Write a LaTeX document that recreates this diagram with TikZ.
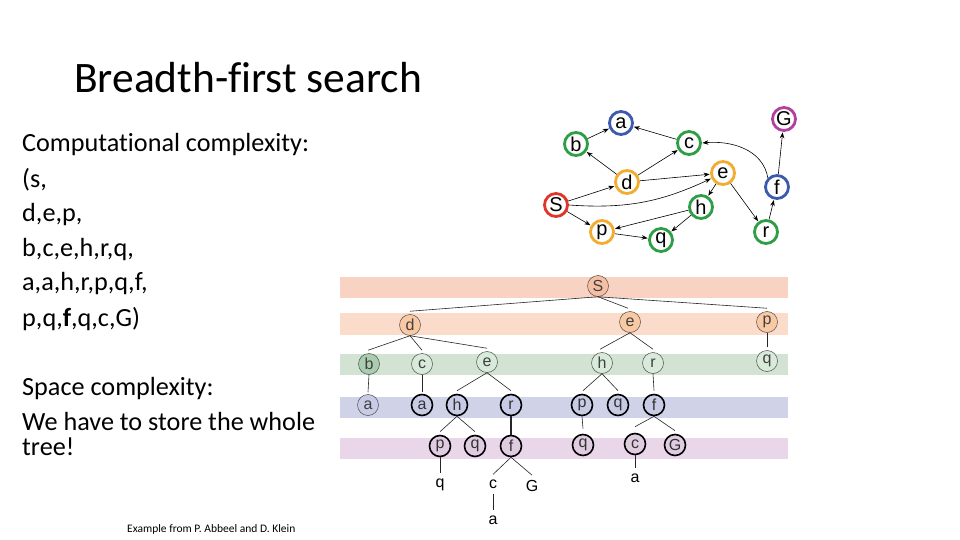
\documentclass[tikz,border=0pt]{standalone}
\usepackage{fontspec}
\setmainfont{Carlito}[Ligatures={NoCommon}]
\newfontfamily\arialf{Liberation Sans}
\usetikzlibrary{arrows.meta}
\definecolor{bandA}{HTML}{F8D3C3}
\definecolor{bandB}{HTML}{FBDCCB}
\definecolor{bandC}{HTML}{D2E3D3}
\definecolor{bandD}{HTML}{D0D3E8}
\definecolor{bandE}{HTML}{E9D6E8}
\definecolor{fillS}{HTML}{F6BFA3}
\definecolor{fillOr}{HTML}{F9C9A4}
\definecolor{fillGrD}{HTML}{A9CDAE}
\definecolor{fillGrL}{HTML}{D8EAD9}
\definecolor{fillLav}{HTML}{C7CBE6}
\definecolor{fillPk}{HTML}{E0CCE0}
\definecolor{gBlue}{HTML}{3D5BAE}
\definecolor{gGreen}{HTML}{2E9E46}
\definecolor{gOrange}{HTML}{F2AC2E}
\definecolor{gRed}{HTML}{E0352B}
\definecolor{gMag}{HTML}{B2409E}
\tikzset{
  body/.style={anchor=base west, inner sep=0pt, font=\fontsize{26.2}{31}\selectfont},
  gnode/.style={circle, line width=2.8pt, minimum size=23pt, inner sep=0pt, fill=white, font=\arialf\fontsize{20}{20}\selectfont},
  garr/.style={-{Stealth[length=6pt,width=4.5pt]}, line width=0.6pt, shorten >=0.5pt},
  tthin/.style={circle, draw=black!70, line width=0.5pt, minimum size=21pt, inner sep=0pt, font=\arialf\fontsize{16}{16}\selectfont, text=black!75},
  tthick/.style={circle, draw=black, line width=1.6pt, minimum size=21pt, inner sep=0pt, font=\arialf\fontsize{16}{16}\selectfont, text=black!80},
  tplain/.style={inner sep=1pt, font=\arialf\fontsize{16}{16}\selectfont},
  tedge/.style={line width=0.6pt, black!85}
}
\begin{document}
\begin{tikzpicture}[x=1pt,y=-1pt]
\useasboundingbox (0,0) rectangle (960,540);
\fill[white] (0,0) rectangle (960,540);
% ---------- text ----------
\node[anchor=base west, inner sep=0pt, font=\fontsize{43.5}{50}\selectfont] (title) at (74,93) {Breadth-first search};
\node[body] (l1) at (22,152) {Computational complexity:};
\node[body] (l2) at (22,187) {(s,};
\node[body] (l3) at (22,221) {d,e,p,};
\node[body] (l4) at (22,256) {b,c,e,h,r,q,};
\node[body] (l5) at (22,290) {a,a,h,r,p,q,f,};
\node[body] (l6) at (22,326) {p,q,\textbf{f},q,c,G)};
\node[body] (l7) at (22,395) {Space complexity:};
\node[body] (l8) at (22,430) {We have to store the whole};
\node[body] (l9) at (22,455) {tree!};
\node[anchor=base west, inner sep=0pt, font=\fontsize{11.5}{13}\selectfont] (src) at (127,532) {Example from P. Abbeel and D. Klein};
% ---------- bands ----------
\fill[bandA] (340,277) rectangle (788,298);
\fill[bandB] (340,313) rectangle (788,335);
\fill[bandC] (340,354) rectangle (788,375);
\fill[bandD] (340,397) rectangle (788,418);
\fill[bandE] (340,438) rectangle (788,459);
% ---------- graph ----------
\node[gnode, draw=gBlue] (ga) at (621,123) {a};
\node[gnode, draw=gGreen] (gb) at (576,144) {b};
\node[gnode, draw=gGreen] (gc) at (689,143) {c};
\node[gnode, draw=gOrange] (gd) at (627,182) {d};
\node[gnode, draw=gOrange] (ge) at (723,173) {e};
\node[gnode, draw=gRed] (gS) at (556,205) {S};
\node[gnode, draw=gGreen] (gh) at (701,207) {h};
\node[gnode, draw=gOrange] (gp) at (602,232) {p};
\node[gnode, draw=gGreen] (gq) at (661,240) {q};
\node[gnode, draw=gGreen] (gr) at (766,232) {r};
\node[gnode, draw=gBlue] (gf) at (777,187) {f};
\node[gnode, draw=gMag] (gG) at (784,119) {G};
\draw[garr] (gb) -- (ga);
\draw[garr] (gc) -- (ga);
\draw[garr] (gd) -- (gb);
\draw[garr] (gd) -- (gc);
\draw[garr] (gd) -- (ge);
\draw[garr] (gS) -- (gd);
\draw[garr] (gS.east) to[out=-4,in=205] (ge);
\draw[garr] (gS) -- (gp);
\draw[garr] (ge) -- (gh);
\draw[garr] (ge) -- (gr);
\draw[garr] (gh) -- (gp);
\draw[garr] (gh) -- (gq);
\draw[garr] (gp) -- (gq);
\draw[garr] (gr) -- (gf);
\draw[garr] (gf) -- (gG);
\draw[garr] (gf.north west) to[out=100,in=5] (gc.east);
% ---------- tree ----------
\node[tthin, fill=fillS] (tS) at (598,286) {S};
\node[tthin, fill=fillOr] (td) at (410,325) {d};
\node[tthin, fill=fillOr] (te) at (630,322) {e};
\node[tthin, fill=fillOr] (tp) at (767,322) {p};
\node[tthin, fill=fillGrD] (tb) at (369,364) {b};
\node[tthin, fill=fillGrL] (tc) at (422,364) {c};
\node[tthin, fill=fillGrL] (te2) at (487,362) {e};
\node[tthin, fill=fillGrL] (th) at (602,363) {h};
\node[tthin, fill=fillGrL] (tr) at (653,363) {r};
\node[tthin, fill=fillGrL] (tq) at (767,361) {q};
\node[tthin, fill=fillLav] (ta1) at (368,405) {a};
\node[tthick, fill=fillLav] (ta2) at (422,405) {a};
\node[tthick, fill=fillLav] (th3) at (457,405) {h};
\node[tthick, fill=fillLav] (tr3) at (511,405) {r};
\node[tthick, fill=fillLav] (tp3) at (582,405) {p};
\node[tthick, fill=fillLav] (tq3) at (618,405) {q};
\node[tthick, fill=fillLav] (tf3) at (654,405) {f};
\node[tthick, fill=fillPk] (tp4) at (440,446) {p};
\node[tthick, fill=fillPk] (tq4) at (475,446) {q};
\node[tthick, fill=fillPk] (tf4) at (511,446) {f};
\node[tthick, fill=fillPk] (tq4b) at (583,445) {q};
\node[tthick, fill=fillPk] (tc4) at (635,444) {c};
\node[tthick, fill=fillPk] (tG4) at (675,445) {G};
\node[tplain] (tq5) at (440,485) {q};
\node[tplain] (tc5) at (493,484) {c};
\node[tplain] (tG5) at (532,486) {G};
\node[tplain] (ta5) at (635,478) {a};
\node[tplain] (ta6) at (493,520) {a};
\draw[tedge] (tS.south) -- ([shift={(0,-3)}]td.north);
\draw[tedge] (tS.south) -- ([shift={(-2,-3)}]te.north);
\draw[tedge] (tS.south) -- ([shift={(0,-3)}]tp.north);
\draw[tedge] (td.south) -- ([shift={(-1,-3)}]tb.north);
\draw[tedge] (td.south) -- ([shift={(0,-3)}]tc.north);
\draw[tedge] (td.south) -- ([shift={(0,-3)}]te2.north);
\draw[tedge] (te.south) -- ([shift={(-2,-3)}]th.north);
\draw[tedge] (te.south) -- ([shift={(0,-3)}]tr.north);
\draw[tedge] (tp.south) -- ([shift={(0,-3)}]tq.north);
\draw[tedge] (tb.south) -- ([shift={(0,-2)}]ta1.north);
\draw[tedge] (tc.south) -- ([shift={(0,-2)}]ta2.north);
\draw[tedge] (te2.south) -- ([shift={(0,-3)}]th3.north);
\draw[tedge] (te2.south) -- ([shift={(0,-3)}]tr3.north);
\draw[tedge] (th.south) -- ([shift={(1,-3)}]tp3.north);
\draw[tedge] (th.south) -- ([shift={(0,-3)}]tq3.north);
\draw[tedge] (tr.south) -- ([shift={(0,-3)}]tf3.north);
\draw[tedge] (th3.south) -- ([shift={(0,-3)}]tp4.north);
\draw[tedge] (th3.south) -- ([shift={(0,-3)}]tq4.north);
\draw[tedge, line width=1.3pt] (tr3.south) -- (tf4.north);
\draw[tedge] (tp3.south) -- ([shift={(0,-5)}]tq4b.north);
\draw[tedge] (tf3.south) -- ([shift={(0,-6)}]tc4.north);
\draw[tedge] (tf3.south) -- ([shift={(0,-3)}]tG4.north);
\draw[tedge] (tp4.south) -- ([shift={(0,-5)}]tq5.north);
\draw[tedge] (tf4.south) -- ([shift={(0,-4)}]tc5.north);
\draw[tedge] (tf4.south) -- ([shift={(0,-4)}]tG5.north);
\draw[tedge] (tc4.south) -- ([shift={(0,-4)}]ta5.north);
\draw[tedge] ([shift={(0,4)}]tc5.south) -- ([shift={(0,-4)}]ta6.north);
\end{tikzpicture}
\end{document}
